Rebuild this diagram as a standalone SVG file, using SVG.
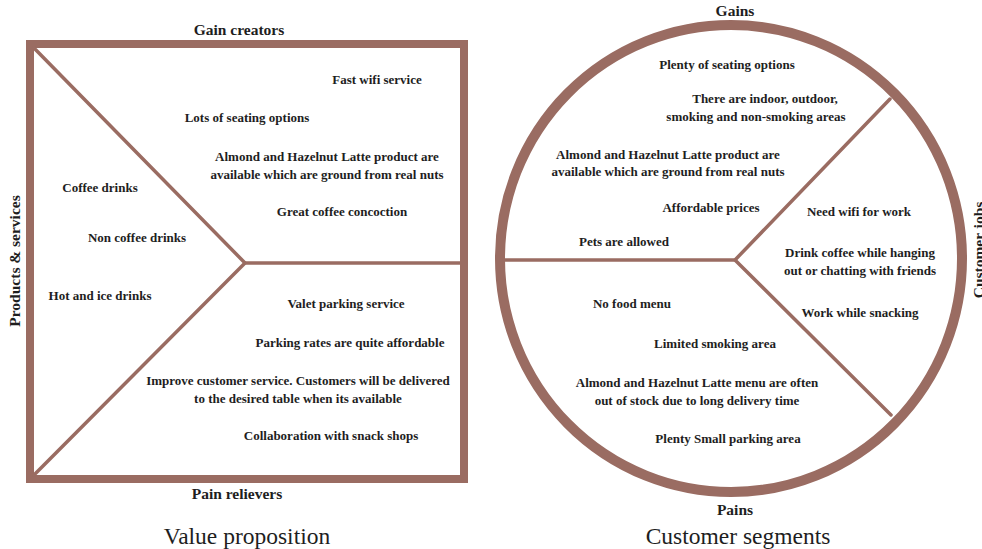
<svg xmlns="http://www.w3.org/2000/svg" width="982" height="549" viewBox="0 0 982 549">
<style>
.frame{fill:none;stroke:#9a6c62;stroke-width:8}
.ring{fill:none;stroke:#9a6c62;stroke-width:10}
.div{fill:none;stroke:#9a6c62;stroke-width:3.5;stroke-linecap:round}
.t{font-family:"Liberation Serif","Times New Roman",serif;font-weight:bold;font-size:13px;fill:#1e1e1e;text-anchor:middle}
.h{font-family:"Liberation Serif","Times New Roman",serif;font-weight:bold;font-size:15.5px;fill:#1e1e1e;text-anchor:middle}
.big{font-family:"Liberation Serif","Times New Roman",serif;font-size:23.5px;fill:#1e1e1e;text-anchor:middle}
</style>
<rect width="982" height="549" fill="#ffffff"/>

<g id="value-proposition">
  <rect class="frame" x="30" y="44" width="434" height="435"/>
  <g id="vp-dividers">
    <polyline class="div" points="34,48 245,263 34,475"/>
    <line class="div" x1="245" y1="263" x2="460" y2="263"/>
  </g>
  <g id="gain-creators">
    <text class="h" x="239" y="35">Gain creators</text>
    <text class="t" x="377" y="84">Fast wifi service</text>
    <text class="t" x="247" y="122">Lots of seating options</text>
    <text class="t" x="327" y="161">Almond and Hazelnut  Latte product are</text>
    <text class="t" x="327" y="179">available which are ground from real nuts</text>
    <text class="t" x="342" y="216">Great coffee concoction</text>
  </g>
  <g id="products-services">
    <text class="h" transform="translate(20,261) rotate(-90)" x="0" y="0">Products &amp; services</text>
    <text class="t" x="100" y="192">Coffee drinks</text>
    <text class="t" x="137" y="242">Non coffee drinks</text>
    <text class="t" x="100" y="300">Hot and ice drinks</text>
  </g>
  <g id="pain-relievers">
    <text class="t" x="346" y="308">Valet parking service</text>
    <text class="t" x="350" y="347">Parking rates are quite affordable</text>
    <text class="t" x="298" y="385">Improve customer service. Customers will be delivered</text>
    <text class="t" x="298" y="403">to the desired table when its available</text>
    <text class="t" x="331" y="440">Collaboration with snack shops</text>
    <text class="h" x="237" y="499">Pain relievers</text>
  </g>
  <text class="big" x="247" y="544">Value proposition</text>
</g>

<g id="customer-segments">
  <ellipse class="ring" cx="731" cy="258.5" rx="231" ry="233.5"/>
  <g id="cs-dividers">
    <polyline class="div" points="504,260 735,260 890,99"/>
    <line class="div" x1="735" y1="260" x2="891" y2="415"/>
  </g>
  <g id="gains">
    <text class="h" x="735" y="16">Gains</text>
    <text class="t" x="727" y="69">Plenty of seating options</text>
    <text class="t" x="765" y="103">There are indoor, outdoor,</text>
    <text class="t" x="756" y="121">smoking and non-smoking areas</text>
    <text class="t" x="668" y="159">Almond and Hazelnut  Latte product are</text>
    <text class="t" x="668" y="176">available which are ground from real nuts</text>
    <text class="t" x="711" y="212">Affordable prices</text>
    <text class="t" x="624" y="246">Pets are allowed</text>
  </g>
  <g id="customer-jobs">
    <text class="t" x="859" y="216">Need wifi for work</text>
    <text class="t" x="860" y="257">Drink coffee while hanging</text>
    <text class="t" x="860" y="275">out or chatting with friends</text>
    <text class="t" x="860" y="317">Work while snacking</text>
    <text class="h" transform="translate(984,250) rotate(-90)" x="0" y="0">Customer jobs</text>
  </g>
  <g id="pains">
    <text class="t" x="632" y="308">No food menu</text>
    <text class="t" x="715" y="348">Limited smoking area</text>
    <text class="t" x="697" y="387">Almond and Hazelnut Latte menu are often</text>
    <text class="t" x="697" y="405">out of stock due to long delivery time</text>
    <text class="t" x="728" y="443">Plenty Small parking area</text>
    <text class="h" x="735" y="515">Pains</text>
  </g>
  <text class="big" x="738" y="544">Customer segments</text>
</g>
</svg>
